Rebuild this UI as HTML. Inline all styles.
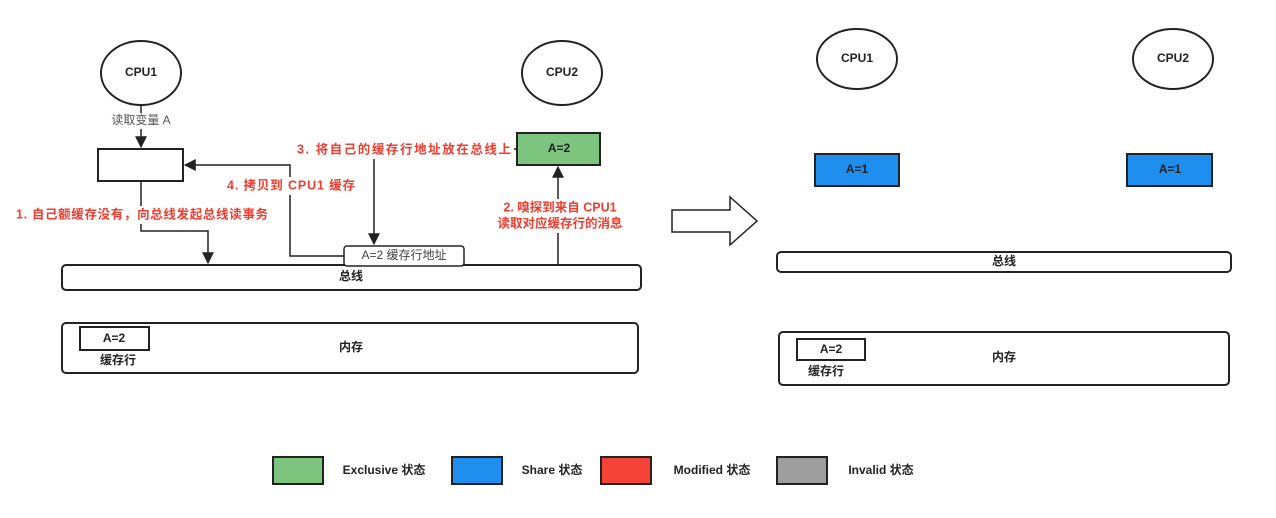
<!DOCTYPE html>
<html><head><meta charset="utf-8"><style>
body{margin:0;background:#fff;}
svg text{font-family:"Liberation Sans","Noto Sans CJK SC",sans-serif;}
</style></head><body>
<svg width="1276" height="513" xmlns="http://www.w3.org/2000/svg">
<defs><marker id="a" viewBox="0 0 10 10" refX="9" refY="5" markerWidth="8" markerHeight="8" orient="auto"><path d="M0,0 L10,5 L0,10 z" fill="#222"/></marker></defs>
<g stroke="#222" stroke-width="2" fill="none">
<ellipse cx="141" cy="73" rx="40" ry="32" fill="#fff"/>
<ellipse cx="562" cy="73" rx="40" ry="32" fill="#fff"/>
<rect x="98" y="149" width="85" height="32" fill="#fff"/>
<rect x="517" y="133" width="83" height="32" fill="#7dc57f"/>
<rect x="62" y="265" width="579" height="25" rx="4" fill="#fff"/>
<rect x="62" y="323" width="576" height="50" rx="4" fill="#fff"/>
<rect x="80" y="327" width="69" height="23" fill="#fff"/>
<rect x="344" y="246" width="120" height="20" rx="3" fill="#fff" stroke-width="1.5"/>
<path d="M141 105 V147" marker-end="url(#a)" stroke-width="1.5"/>
<path d="M141 181 V231 H208 V263" marker-end="url(#a)" stroke-width="1.5"/>
<path d="M344 256 H290 V165 H185" marker-end="url(#a)" stroke-width="1.5"/>
<path d="M517 149 H374 V244" marker-end="url(#a)" stroke-width="1.5"/>
<path d="M558 265 V167" marker-end="url(#a)" stroke-width="1.5"/>
<ellipse cx="857" cy="59" rx="40" ry="30" fill="#fff"/>
<ellipse cx="1173" cy="59" rx="40" ry="30" fill="#fff"/>
<rect x="815" y="154" width="84" height="32" fill="#1e8fef"/>
<rect x="1127" y="154" width="85" height="32" fill="#1e8fef"/>
<rect x="777" y="252" width="454" height="20" rx="4" fill="#fff"/>
<rect x="779" y="332" width="450" height="53" rx="4" fill="#fff"/>
<rect x="797" y="339" width="68" height="21" fill="#fff"/>
<path d="M672 210 H730 V197 L757 221 L730 245 V232 H672 Z" fill="#fff" stroke-width="1.5"/>
<rect x="273" y="457" width="50" height="27" fill="#7dc57f"/>
<rect x="452" y="457" width="50" height="27" fill="#1e8fef"/>
<rect x="601" y="457" width="50" height="27" fill="#f44336"/>
<rect x="777" y="457" width="50" height="27" fill="#9e9e9e"/>
</g>
<g font-size="12" fill="#222" text-anchor="middle" dominant-baseline="middle" font-weight="bold">
<text x="141" y="73">CPU1</text>
<text x="562" y="73">CPU2</text>
<rect x="104" y="113" width="74" height="16" fill="#fff"/>
<text x="141" y="121" fill="#555" font-weight="normal">读取变量 A</text>
<text x="559" y="149">A=2</text>
<text x="351" y="277">总线</text>
<text x="351" y="348">内存</text>
<text x="114" y="339">A=2</text>
<text x="118" y="361">缓存行</text>
<text x="404" y="256" fill="#444" font-weight="normal">A=2 缓存行地址</text>
<text x="857" y="59">CPU1</text>
<text x="1173" y="59">CPU2</text>
<text x="857" y="170">A=1</text>
<text x="1170" y="170">A=1</text>
<text x="1004" y="262">总线</text>
<text x="1004" y="358">内存</text>
<text x="831" y="350">A=2</text>
<text x="826" y="372">缓存行</text>
<text x="384" y="471">Exclusive 状态</text>
<text x="552" y="471">Share 状态</text>
<text x="712" y="471">Modified 状态</text>
<text x="881" y="471">Invalid 状态</text>
</g>
<g font-size="12.5" fill="#f03c2e" dominant-baseline="middle" font-weight="bold">
<rect x="295" y="141" width="219" height="18" fill="#fff"/>
<text x="297" y="150" textLength="214">3. 将自己的缓存行地址放在总线上</text>
<rect x="225" y="177" width="132" height="18" fill="#fff"/>
<text x="227" y="186" textLength="128">4. 拷贝到 CPU1 缓存</text>
<rect x="14" y="206" width="256" height="18" fill="#fff"/>
<text x="16" y="215" textLength="252">1. 自己额缓存没有，向总线发起总线读事务</text>
<rect x="494" y="199" width="134" height="34" fill="#fff"/>
<text x="560" y="208" text-anchor="middle">2. 嗅探到来自 CPU1</text>
<text x="560" y="224" text-anchor="middle">读取对应缓存行的消息</text>
</g>
</svg>
</body></html>
